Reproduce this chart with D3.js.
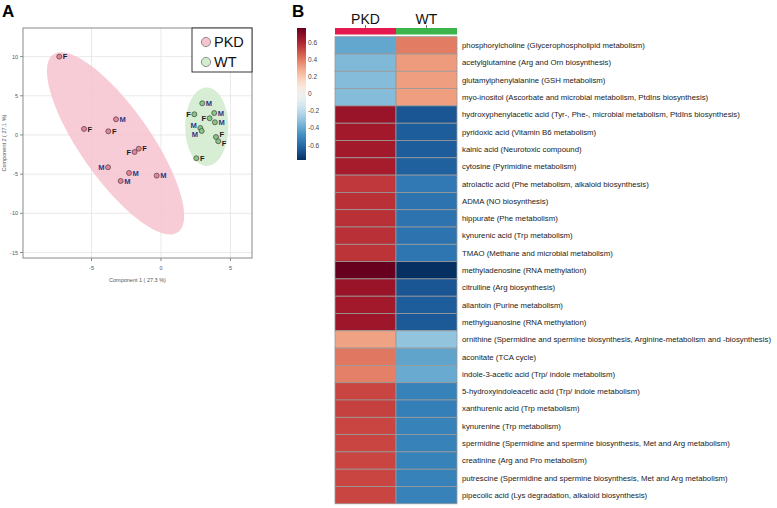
<!DOCTYPE html>
<html><head><meta charset="utf-8">
<script src="https://cdn.jsdelivr.net/npm/d3@7"></script>
<style>body{margin:0;background:#fff}svg{display:block;font-family:"Liberation Sans",Arial,sans-serif}</style>
</head><body>
<svg id="c" width="777" height="508"></svg>
<script>
// ---------- Panel A data ----------
const groups = ["PKD", "WT"];
const pkdX = [-7.32, -5.54, -3.79, -3.24, -1.90, -1.60, -3.81, -2.30, -2.90, -0.31];
const pkdY = [10.0, 0.77, 0.47, 2.0, -2.17, -1.75, -4.12, -4.85, -5.87, -5.19];
const pkdSex = ["F","F","F","M","F","F","M","M","M","M"];
const pkdSide = ["r","r","r","r","l","r","l","r","r","r"];
const wtX = [2.97, 2.40, 3.50, 3.83, 3.88, 2.83, 2.93, 3.96, 4.12, 2.54];
const wtY = [4.04, 2.64, 2.13, 2.80, 1.62, 0.89, 0.51, -0.26, -0.80, -2.97];
const wtSex = ["M","F","F","M","M","M","M","F","F","F"];
const wtSide = ["r","l","l","r","r","l","l","r","r","r"];
const xTicks = [-5, 0, 5];
const yTicks = [10, 5, 0, -5, -10, -15];
const xLabel = "Component 1 ( 27.3 %)";
const yLabel = "Component 2 ( 27.1 %)";

// ---------- Panel B data ----------
const metabolites = [
 "phosphorylcholine (Glycerophospholipid metabolism)",
 "acetylglutamine (Arg and Orn biosynthesis)",
 "glutamylphenylalanine (GSH metabolism)",
 "myo-inositol (Ascorbate and microbial metabolism, PtdIns biosynthesis)",
 "hydroxyphenylacetic acid (Tyr-, Phe-, microbial metabolism, PtdIns biosynthesis)",
 "pyridoxic acid (Vitamin B6 metabolism)",
 "kainic acid (Neurotoxic compound)",
 "cytosine (Pyrimidine metabolism)",
 "atrolactic acid (Phe metabolism, alkaloid biosynthesis)",
 "ADMA (NO biosynthesis)",
 "hippurate (Phe metabolism)",
 "kynurenic acid (Trp metabolism)",
 "TMAO (Methane and microbial metabolism)",
 "methyladenosine (RNA methylation)",
 "citrulline (Arg biosynthesis)",
 "allantoin (Purine metabolism)",
 "methylguanosine (RNA methylation)",
 "ornithine (Spermidine and spermine biosynthesis, Arginine-metabolism and -biosynthesis)",
 "aconitate (TCA cycle)",
 "indole-3-acetic acid (Trp/ indole metabolism)",
 "5-hydroxyindoleacetic acid (Trp/ indole metabolism)",
 "xanthurenic acid (Trp metabolism)",
 "kynurenine (Trp metabolism)",
 "spermidine (Spermidine and spermine biosynthesis, Met and Arg metabolism)",
 "creatinine (Arg and Pro metabolism)",
 "putrescine (Spermidine and spermine biosynthesis, Met and Arg metabolism)",
 "pipecolic acid (Lys degradation, alkaloid biosynthesis)"
];
const pkdVals = [-0.40,-0.34,-0.33,-0.33, 0.66,0.64,0.64,0.63, 0.55,0.57,0.57,0.57,0.56, 0.77, 0.66,0.64,0.65, 0.31, 0.41,0.39, 0.52,0.53,0.52,0.52,0.52,0.52,0.52];
const wtVals  = [0.40,0.33,0.32,0.32, -0.66,-0.64,-0.64,-0.63, -0.55,-0.57,-0.57,-0.57,-0.56, -0.77, -0.66,-0.64,-0.65, -0.30, -0.41,-0.39, -0.52,-0.53,-0.52,-0.52,-0.52,-0.52,-0.52];
const colorTicks = [0.6, 0.4, 0.2, 0, -0.2, -0.4, -0.6];
const colorMax = 0.77;

const svg = d3.select("#c");

// ================= Panel A =================
svg.append("text").attr("x", 2).attr("y", 17).attr("font-size", 17).attr("font-weight", "bold").text("A");

const x = d3.scaleLinear().domain([-9.93, 6.55]).range([23, 252]);
const y = d3.scaleLinear().domain([-15.7, 13.65]).range([258, 28]);
const A = svg.append("g");

// grid
A.selectAll(".vg").data(xTicks).join("line").attr("x1", d => x(d)).attr("x2", d => x(d))
  .attr("y1", y.range()[1]).attr("y2", y.range()[0]).attr("stroke", "#e3e3e3").attr("stroke-width", 0.8);
A.selectAll(".hg").data(yTicks).join("line").attr("y1", d => y(d)).attr("y2", d => y(d))
  .attr("x1", x.range()[0]).attr("x2", x.range()[1]).attr("stroke", "#e3e3e3").attr("stroke-width", 0.8);

// ellipses (95% confidence from group covariance)
function ellipsePts(xs, ys) {
  const n = xs.length, mx = d3.mean(xs), my = d3.mean(ys);
  let sxx = 0, syy = 0, sxy = 0;
  for (let i = 0; i < n; i++) { const dx = xs[i]-mx, dy = ys[i]-my; sxx += dx*dx; syy += dy*dy; sxy += dx*dy; }
  sxx /= n-1; syy /= n-1; sxy /= n-1;
  const tr = sxx + syy, det = sxx*syy - sxy*sxy;
  const l1 = tr/2 + Math.sqrt(tr*tr/4 - det), l2 = tr/2 - Math.sqrt(tr*tr/4 - det);
  const ang = Math.atan2(l1 - sxx, sxy);
  const c = 5.991, a = Math.sqrt(c*l1), b = Math.sqrt(c*l2);
  return d3.range(0, 101).map(i => {
    const t = i/100*2*Math.PI;
    const ex = a*Math.cos(t), ey = b*Math.sin(t);
    return [mx + ex*Math.cos(ang) - ey*Math.sin(ang), my + ex*Math.sin(ang) + ey*Math.cos(ang)];
  });
}
const line = d3.line().x(d => x(d[0])).y(d => y(d[1]));
A.append("path").attr("d", line(ellipsePts(pkdX, pkdY))).attr("fill", "#f7c3cf").attr("opacity", 0.85);
A.append("path").attr("d", line(ellipsePts(wtX, wtY))).attr("fill", "#d3ebcf").attr("opacity", 0.9);

// frame
A.append("rect").attr("x", x.range()[0]).attr("y", y.range()[1]).attr("width", x.range()[1]-x.range()[0])
  .attr("height", y.range()[0]-y.range()[1]).attr("fill", "none").attr("stroke", "#8a8a8a").attr("stroke-width", 1);

// ticks
A.selectAll(".xt").data(xTicks).join("line").attr("x1", d => x(d)).attr("x2", d => x(d)).attr("y1", 258).attr("y2", 261).attr("stroke", "#8a8a8a");
A.selectAll(".xl").data(xTicks).join("text").attr("x", d => x(d)).attr("y", 270).attr("text-anchor", "middle")
  .attr("font-size", 5.5).attr("fill", "#555").text(d => d);
A.selectAll(".yt").data(yTicks).join("line").attr("y1", d => y(d)).attr("y2", d => y(d)).attr("x1", 20).attr("x2", 23).attr("stroke", "#8a8a8a");
A.selectAll(".yl").data(yTicks).join("text").attr("x", 18).attr("y", d => y(d)+2).attr("text-anchor", "end")
  .attr("font-size", 5.5).attr("fill", "#555").text(d => d);
A.append("text").attr("x", 137.5).attr("y", 282).attr("text-anchor", "middle").attr("font-size", 5.5).attr("fill", "#555").text(xLabel);
A.append("text").attr("transform", "translate(6,143) rotate(-90)").attr("text-anchor", "middle").attr("font-size", 5.5).attr("fill", "#555").text(yLabel);

// points
const allLabels = [];
function buildPts(xs, ys, sex, side, fill) {
  return xs.map((v, i) => {
    const d = {x: v, y: ys[i], s: sex[i], side: side[i], fill,
      lx: side[i] === "r" ? x(v)+3.6 : x(v)-3.6, ly: y(ys[i])+2.7};
    allLabels.push(d);
    return d;
  });
}
const ptsP = buildPts(pkdX, pkdY, pkdSex, pkdSide, "#e9819a");
const ptsW = buildPts(wtX, wtY, wtSex, wtSide, "#86c784");
// simple label repel (vertical) for labels on same side that collide
for (let it = 0; it < 40; it++) {
  for (let i = 0; i < allLabels.length; i++) for (let j = i+1; j < allLabels.length; j++) {
    const a = allLabels[i], b = allLabels[j];
    if (a.side !== b.side || Math.abs(a.lx - b.lx) > 8) continue;
    const dy = b.ly - a.ly, need = 9;
    if (Math.abs(dy) < need) {
      const push = (need - Math.abs(dy)) / 2 + 0.05, sgn = dy >= 0 ? 1 : -1;
      a.ly -= sgn*push; b.ly += sgn*push;
    }
  }
}
[ptsP, ptsW].forEach(data => {
  A.append("g").selectAll("circle").data(data).join("circle").attr("cx", d => x(d.x)).attr("cy", d => y(d.y))
    .attr("r", 2.5).attr("fill", d => d.fill).attr("stroke", "#444").attr("stroke-width", 0.7);
  A.append("g").selectAll("text").data(data).join("text")
    .attr("x", d => d.lx).attr("y", d => d.ly)
    .attr("text-anchor", d => d.side === "r" ? "start" : "end")
    .attr("font-size", 7.5).attr("font-weight", "bold")
    .attr("fill", d => d.s === "M" ? "#1f3a8a" : "#1a1a1a").text(d => d.s);
});

// legend
const L = A.append("g");
L.append("rect").attr("x", 192).attr("y", 28).attr("width", 60).attr("height", 44).attr("fill", "#fff").attr("stroke", "#222").attr("stroke-width", 0.9);
const legFill = ["#f7c3cf", "#d3ebcf"];
groups.forEach((g, i) => {
  L.append("circle").attr("cx", 206).attr("cy", 42 + i*20).attr("r", 4.6).attr("fill", legFill[i]).attr("stroke", "#777").attr("stroke-width", 0.8);
  L.append("text").attr("x", 214).attr("y", 47 + i*20).attr("font-size", 14.5).attr("fill", "#111").text(g);
});

// ================= Panel B =================
svg.append("text").attr("x", 292).attr("y", 17).attr("font-size", 17).attr("font-weight", "bold").text("B");

const hx = d3.scaleBand().domain(groups).range([335, 457]);
const hy = d3.scaleBand().domain(metabolites).range([36.7, 503.8]);
const color = d3.scaleDiverging(d3.interpolateRdBu).domain([colorMax, 0, -colorMax]);
const B = svg.append("g");

// header
const headColor = {PKD: "#e5194f", WT: "#3db44b"};
B.selectAll(".hd").data(groups).join("rect").attr("x", d => hx(d)).attr("y", 28).attr("width", hx.bandwidth()).attr("height", 6.5).attr("fill", d => headColor[d]);
B.selectAll(".hl").data(groups).join("text").attr("x", d => hx(d)+hx.bandwidth()/2).attr("y", 23.5).attr("text-anchor", "middle")
  .attr("font-size", 14).attr("fill", "#111").text(d => d);
B.selectAll(".htk").data(groups).join("line").attr("x1", d => hx(d)+hx.bandwidth()/2).attr("x2", d => hx(d)+hx.bandwidth()/2)
  .attr("y1", 25).attr("y2", 28).attr("stroke", "#555").attr("stroke-width", 0.8);

// cells
const cells = [];
metabolites.forEach((m, i) => { cells.push({g: "PKD", m, v: pkdVals[i]}); cells.push({g: "WT", m, v: wtVals[i]}); });
B.selectAll(".cell").data(cells).join("rect").attr("x", d => hx(d.g)).attr("y", d => hy(d.m))
  .attr("width", hx.bandwidth()).attr("height", hy.bandwidth()).attr("fill", d => color(d.v))
  .attr("stroke", "#9a9a9a").attr("stroke-width", 0.8);

// row labels
B.selectAll(".rl").data(metabolites).join("text").attr("x", 462).attr("y", d => hy(d)+hy.bandwidth()/2+2.8)
  .attr("font-size", 7.8).attr("fill", "#222").text(d => d);

// colorbar
const cy = d3.scaleLinear().domain([-colorMax, colorMax]).range([160, 28]);
const defs = svg.append("defs");
const grad = defs.append("linearGradient").attr("id", "cb").attr("x1", 0).attr("y1", 1).attr("x2", 0).attr("y2", 0);
d3.range(0, 21).forEach(i => {
  const t = i/20;
  grad.append("stop").attr("offset", t).attr("stop-color", color(-colorMax + t*2*colorMax));
});
B.append("rect").attr("x", 297).attr("y", 28).attr("width", 9).attr("height", 132).attr("fill", "url(#cb)");
B.selectAll(".ct").data(colorTicks).join("text").attr("x", 308).attr("y", d => cy(d)+2.2)
  .attr("font-size", 6.5).attr("fill", "#444").text(d => d);
</script>
</body></html>
